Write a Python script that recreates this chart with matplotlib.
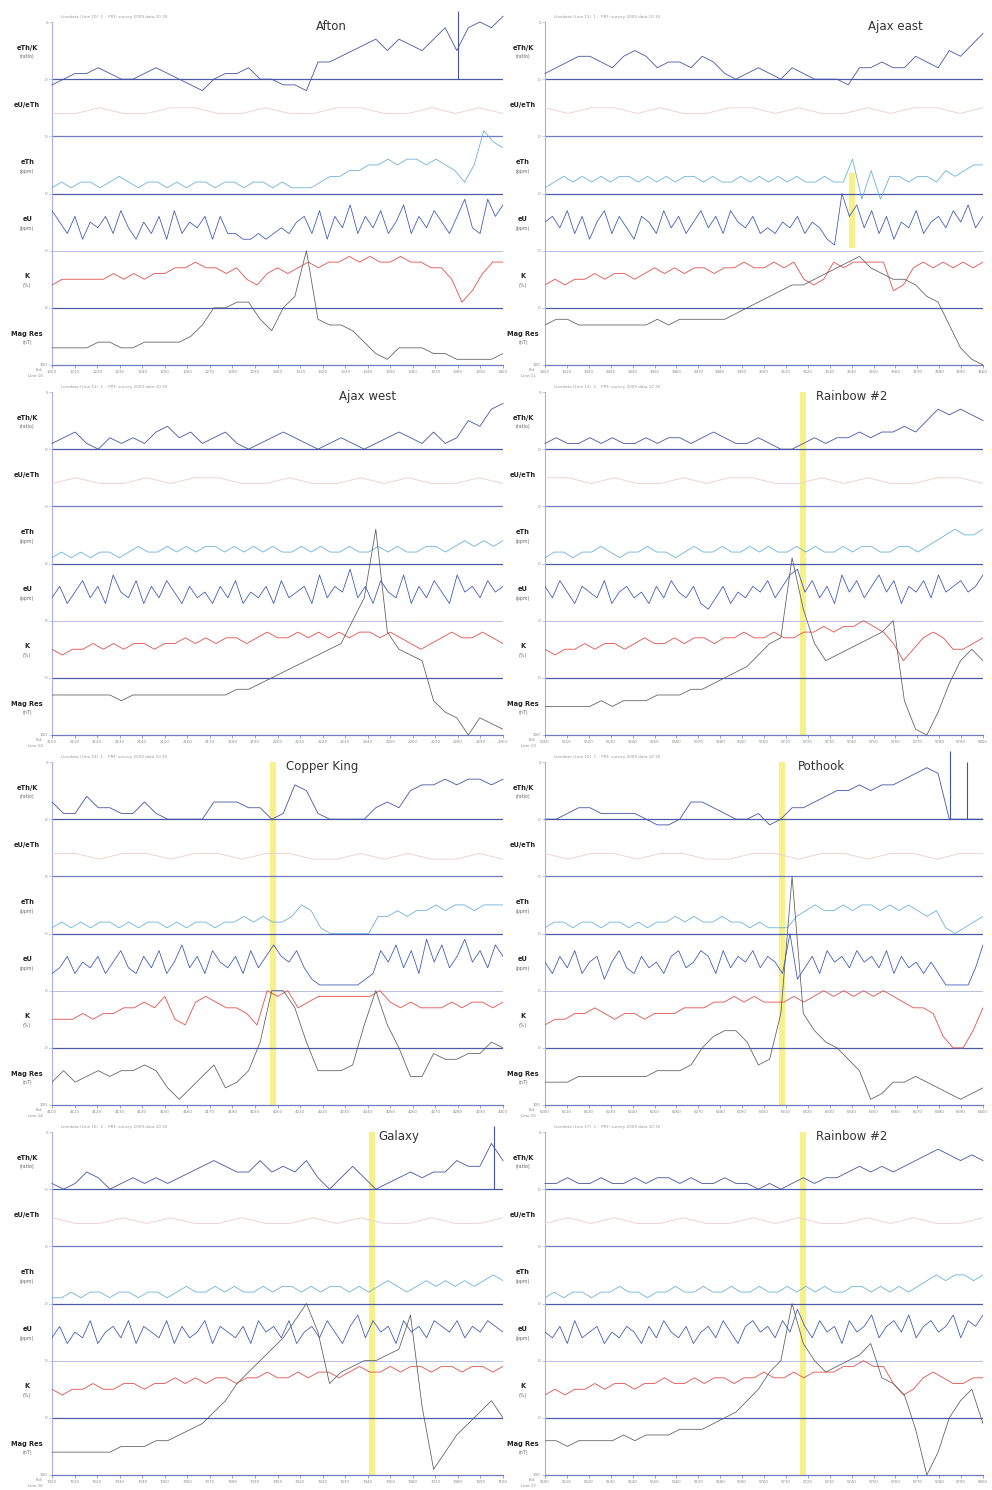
import matplotlib.pyplot as plt
import numpy as np

# ---- data (values in tenths of a track height, measured from each track's baseline) ----
titles = ["Afton", "Ajax east", "Ajax west", "Rainbow #2",
          "Copper King", "Pothook", "Galaxy", "Rainbow #2"]

track_names = ["eTh/K", "eU/eTh", "eTh", "eU", "K", "Mag Res"]
track_units = ["(ratio)", "", "(ppm)", "(ppm)", "(%)", "(nT)"]

ratio_thk = [
    [-1,0,1,1,2,1,0,0,1,2,1,0,-1,-2,0,1,1,2,0,0,-1,-1,-2,3,3,4,5,6,7,5,7,6,5,7,9,5,9,10,9,11],
    [1,2,3,4,4,3,2,4,5,4,2,3,3,2,4,3,1,0,1,2,1,0,2,1,0,0,0,-1,2,2,3,2,2,4,3,2,5,4,6,8],
    [1,2,3,1,0,2,1,2,1,3,4,2,3,1,2,3,1,0,1,2,3,2,1,0,1,2,1,0,1,2,3,2,1,3,1,2,5,4,7,8],
    [1,2,1,1,2,1,2,1,1,2,1,2,2,1,2,3,2,1,1,2,1,0,0,1,2,1,2,2,3,2,3,3,4,3,5,7,6,7,6,5],
    [3,1,1,4,2,2,1,1,3,1,0,0,0,0,3,3,3,2,2,0,1,6,5,1,0,0,0,0,2,3,2,5,6,6,7,6,7,7,6,7],
    [0,0,1,2,2,1,1,1,1,0,-1,-1,0,3,3,2,1,0,0,1,-1,0,2,2,3,4,5,5,6,5,6,6,7,8,9,8,0,0,0,0],
    [1,0,1,3,2,0,1,2,1,2,1,2,3,4,5,4,3,3,5,3,4,3,5,2,0,2,4,2,0,1,2,3,2,3,3,5,4,4,8,5],
    [1,1,2,1,1,2,1,1,2,1,2,2,1,2,1,1,2,1,1,0,1,0,1,2,1,2,2,3,4,3,4,3,4,5,6,7,6,5,6,5],
]
# single-sample spikes on the eTh/K track: (panel, position along line, height)
spike_panel = [0, 5, 5, 6]
spike_pos = [0.90, 0.924, 0.964, 0.98]
spike_height = [12, 12, 10, 11]

ratio_uth = [
    [4,4,5,4,4,5,5,4,4,5,4,4,5,5,4,4,5,4,5,4],
    [5,4,5,5,4,5,4,4,5,5,4,5,4,4,5,4,5,5,4,5],
    [4,5,4,4,5,4,5,5,4,4,5,4,4,5,4,5,4,4,5,4],
    [5,5,4,5,4,4,5,4,5,5,4,4,5,4,5,4,4,5,5,4],
    [4,4,3,4,4,3,4,4,3,4,4,3,3,4,3,4,3,3,4,3],
    [4,3,4,4,3,4,4,3,3,4,4,3,4,4,3,4,4,3,4,4],
    [5,4,4,5,4,5,4,4,5,4,4,5,4,5,4,4,5,4,4,5],
    [4,5,4,5,4,4,5,4,4,5,4,5,4,4,5,4,5,4,4,5],
]

eth_ppm = [
    [1,2,1,2,2,1,2,3,2,1,2,2,1,2,1,2,2,1,2,2,1,2,2,1,2,1,1,1,2,3,3,4,4,5,5,6,5,6,6,5,6,5,4,2,5,11,9,8],
    [1,2,3,2,3,2,3,2,3,3,2,3,2,3,2,3,3,2,3,2,2,3,2,3,2,3,2,3,2,2,3,2,2,6,-1,4,-1,3,3,2,3,3,2,4,3,4,5,5],
    [1,2,1,2,1,2,2,1,2,3,2,2,3,2,3,2,3,3,2,3,2,3,2,3,2,2,3,2,3,2,2,3,2,2,3,2,3,2,2,3,3,2,3,4,3,4,3,4],
    [1,2,2,1,2,2,3,2,1,2,2,3,2,2,1,2,3,2,2,3,2,2,3,2,3,2,2,3,2,3,2,2,3,2,3,3,2,2,3,3,2,3,4,5,6,5,5,6],
    [1,2,1,2,1,2,2,1,2,1,2,2,1,2,1,2,2,1,2,2,3,2,3,2,2,3,5,4,1,0,0,0,0,0,3,3,4,3,4,4,5,4,5,5,4,5,5,5],
    [1,2,2,1,2,2,1,2,2,1,2,1,2,2,3,2,3,2,2,3,2,2,1,2,1,1,1,3,4,5,4,4,5,4,5,5,4,5,4,5,4,3,4,1,0,1,2,3],
    [1,1,2,1,2,2,1,2,2,1,2,2,1,2,3,2,2,3,2,3,2,2,3,2,3,3,2,3,2,3,3,2,3,2,3,4,3,2,3,4,3,4,3,4,3,4,5,4],
    [1,2,1,2,2,1,2,2,3,2,2,1,2,2,3,2,2,3,2,2,3,2,2,3,2,2,3,2,3,2,3,2,2,3,3,2,3,2,3,2,3,4,5,4,5,5,4,5],
]

eu_ppm = [
    [7,5,3,6,2,5,4,6,3,7,4,2,5,3,6,2,7,3,5,4,6,2,6,3,3,2,2,3,2,3,4,3,5,6,3,7,2,6,4,8,3,6,4,7,3,5,8,3,6,4,7,5,3,6,9,4,3,9,6,8],
    [5,6,4,7,3,6,2,5,7,3,6,4,2,6,5,3,7,4,6,3,5,7,4,6,3,7,5,4,6,3,4,3,5,4,6,3,5,4,2,1,10,6,8,4,7,3,6,2,5,4,7,3,5,6,4,7,5,8,4,6],
    [4,6,3,5,7,4,6,3,8,5,4,7,3,6,4,7,5,3,6,4,5,3,6,4,7,3,5,4,6,3,7,4,5,6,3,8,4,6,5,9,4,6,3,7,5,4,8,3,6,4,7,5,3,8,5,6,4,7,5,6],
    [6,4,7,5,3,6,5,4,7,3,5,6,4,5,3,6,4,7,5,4,6,3,2,4,6,3,5,4,6,5,7,4,6,8,9,5,7,4,6,3,8,5,7,4,6,8,5,7,3,6,5,7,4,8,5,6,7,5,6,8],
    [3,4,6,3,5,4,6,3,5,7,4,3,6,4,7,3,5,8,4,6,3,7,5,4,6,3,7,4,6,8,6,5,7,4,2,1,1,1,1,1,1,2,3,7,5,8,4,7,3,9,5,8,4,6,9,5,7,4,8,6],
    [5,3,6,4,7,3,5,6,2,5,7,4,3,6,4,5,3,6,7,4,5,7,6,3,7,4,6,5,7,4,6,5,3,10,2,4,6,3,7,5,6,4,7,5,6,4,7,3,6,4,5,3,5,3,1,1,1,1,4,8],
    [4,6,3,5,4,7,3,5,6,4,7,3,6,5,4,7,3,6,4,5,7,3,6,5,4,6,3,7,5,6,4,7,3,5,6,4,7,5,3,6,8,4,7,5,6,3,7,5,6,4,7,6,5,7,4,6,5,7,6,5],
    [5,4,6,3,7,4,5,6,3,5,4,6,5,3,6,4,7,5,4,6,3,5,6,4,7,5,3,6,7,5,6,4,7,5,9,6,4,7,5,6,3,7,5,6,8,4,6,7,5,8,4,6,7,5,6,8,4,7,6,8],
]

k_pct = [
    [4,5,5,5,5,5,6,5,6,5,6,6,7,7,8,7,7,6,7,5,4,6,7,6,7,8,7,8,8,9,8,9,8,8,9,8,8,7,7,5,1,3,6,8,8],
    [4,5,4,5,5,6,5,6,6,5,6,7,6,7,6,7,7,6,7,7,8,7,7,8,7,8,5,4,5,8,7,8,8,8,8,3,4,7,8,7,8,7,8,7,8],
    [5,4,5,5,6,5,6,5,6,6,5,6,6,7,6,7,6,7,7,6,7,8,7,7,8,7,8,7,8,7,8,8,7,8,7,6,5,6,7,8,7,7,8,7,6],
    [5,4,5,5,6,5,6,6,5,6,7,6,6,7,6,7,7,6,7,7,8,7,7,8,7,7,8,8,9,8,9,9,10,9,8,6,3,5,7,8,7,5,5,6,7],
    [5,5,5,6,5,6,6,7,7,8,7,9,5,4,8,9,8,7,7,6,4,10,9,10,7,8,9,9,9,9,9,9,10,8,7,8,7,7,7,8,7,8,8,7,8],
    [4,5,5,6,6,7,6,5,6,6,5,6,6,6,7,7,7,8,8,9,8,9,8,8,8,9,8,9,10,9,10,9,10,9,10,9,8,7,7,6,2,0,0,3,7],
    [5,4,5,5,6,5,5,6,6,5,6,6,7,6,7,6,7,7,6,7,7,8,7,7,8,7,8,8,7,8,9,8,8,9,8,9,9,8,9,9,8,9,9,8,9],
    [4,5,4,5,5,6,5,6,6,5,6,6,7,6,6,7,6,7,7,6,7,7,8,7,7,8,7,8,8,8,9,9,10,9,9,6,4,5,7,8,7,6,6,7,7],
]

mag_res = [
    [3,3,3,3,4,4,3,3,4,4,4,4,5,7,10,10,11,11,8,6,10,12,20,8,7,7,6,4,2,1,3,3,3,2,2,1,1,1,1,2],
    [7,8,8,7,7,7,7,7,7,7,8,7,8,8,8,8,8,9,10,11,12,13,14,14,15,16,17,18,19,17,16,15,15,14,12,11,7,3,1,0],
    [7,7,7,7,7,7,6,7,7,7,7,7,7,7,7,7,8,8,9,10,11,12,13,14,15,16,20,24,36,18,15,14,13,6,4,3,0,3,2,1],
    [5,5,5,5,5,6,5,6,6,6,7,7,7,8,8,9,10,11,12,14,16,17,31,22,16,13,14,15,16,17,18,20,6,1,0,4,9,13,15,13],
    [4,6,4,5,6,5,6,6,7,6,3,1,3,5,7,3,4,6,11,20,20,17,11,6,6,6,7,14,20,14,10,5,5,9,8,8,9,9,11,10],
    [4,4,4,5,5,5,5,5,5,5,6,6,6,7,10,12,13,13,11,7,8,16,40,16,13,11,10,8,6,1,2,4,4,5,4,3,2,1,2,3],
    [4,4,4,4,4,4,5,5,5,6,6,7,8,9,11,13,16,18,20,22,24,27,30,25,16,18,19,20,20,21,22,28,12,1,4,7,9,11,13,10],
    [6,6,5,6,6,6,6,7,6,7,7,7,8,8,8,9,10,11,13,15,18,20,30,23,20,18,19,20,21,23,17,16,14,8,0,4,10,13,15,9],
]

# highlighted fiducial (yellow marker) per panel: position, lower and upper track extent
marker_pos = [None, 0.70, None, 0.59, 0.49, 0.54, 0.71, 0.59]
marker_lo = [0, 2.1, 0, 0, 0, 0, 0, 0]
marker_hi = [6, 3.3, 6, 6, 6, 6, 6, 6]

fid_start = [1200, 3400, 2100, 5600, 4100, 6200, 7300, 5600]

# ---- styling ----
title_x = [0.62, 0.80, 0.70, 0.70, 0.60, 0.63, 0.77, 0.70]
colors = ["#4455a5", "#f1d3d3", "#62aad8", "#3552b4", "#e2504a", "#5a5a5a"]
widths = [0.6, 0.7, 0.55, 0.55, 0.6, 0.55]
base_line_col = ["#4c5aa8", "#6f7cc0", "#4c5aa8", "#b8bfe4", "#4c5aa8"]

fig = plt.figure(figsize=(9.92, 14.90), dpi=100)
W, H = 992.0, 1490.0

for p in range(8):
    col = p % 2
    row = p // 2
    left_px = 52 if col == 0 else 545
    width_px = 451 if col == 0 else 438
    top_px = 22 + 370 * row
    ax = fig.add_axes([left_px / W, 1 - (top_px + 343) / H, width_px / W, 343 / H])
    ax.set_xlim(0, 1)
    ax.set_ylim(0, 6)

    for s in ["top", "right"]:
        ax.spines[s].set_visible(False)
    ax.spines["left"].set_color("#a8b0e0")
    ax.spines["left"].set_linewidth(0.8)
    ax.spines["bottom"].set_color("#6f7cc0")
    ax.spines["bottom"].set_linewidth(0.9)

    # track baselines
    for i, y in enumerate([5, 4, 3, 2, 1]):
        ax.axhline(y, color=base_line_col[i], lw=0.9 if i != 3 else 0.7, zorder=1)

    if marker_pos[p] is not None:
        ax.axvline(marker_pos[p], ymin=marker_lo[p] / 6, ymax=marker_hi[p] / 6,
                   color="#f6f18c", lw=4.5, zorder=0)

    series = [ratio_thk[p], ratio_uth[p], eth_ppm[p], eu_ppm[p], k_pct[p], mag_res[p]]
    for t, vals in enumerate(series):
        base = 5 - t
        v = np.array(vals, dtype=float) / 10.0
        x = np.linspace(0, 1, len(v))
        ax.plot(x, base + v, color=colors[t], lw=widths[t], zorder=3,
                clip_on=(t != 0))

    for sp, sx, sh in zip(spike_panel, spike_pos, spike_height):
        if sp == p:
            ax.vlines(sx, 5, 5 + sh / 10.0, color=colors[0], lw=0.8, zorder=3,
                      clip_on=False)

    # track labels on the left
    tr = ax.get_yaxis_transform()
    lx = -0.055 if col == 0 else -0.05
    for t in range(6):
        yc = 5 - t + 0.55
        ax.text(lx, yc, track_names[t], transform=tr, ha="center", va="center",
                fontsize=4.8, fontweight="bold", color="#222222")
        if track_units[t]:
            ax.text(lx, yc - 0.16, track_units[t], transform=tr, ha="center",
                    va="center", fontsize=3.4, color="#666666")

    ax.set_yticks([0, 1, 2, 3, 4, 5, 6])
    ax.set_yticklabels(["100", "0", "0", "0", "0", "0", "5"], fontsize=3, color="#888888")
    ax.tick_params(axis="y", length=2, width=0.5, color="#a8b0e0", pad=1)

    ticks = np.linspace(0, 1, 21)
    ax.set_xticks(ticks)
    ax.set_xticklabels([str(fid_start[p] + 10 * i) for i in range(21)],
                       fontsize=2.8, color="#888888")
    ax.tick_params(axis="x", length=2.5, width=0.5, color="#6f7cc0", pad=1)

    ax.text(title_x[p], 5.93, titles[p], transform=ax.transData, ha="center",
            va="center", fontsize=8.5, color="#333333")
    ax.text(0.02, 6.08, "Linedata (Line %d)  1 :  PRF: survey 2009 data 10 30" % (10 + p),
            fontsize=3, color="#999999", va="center", clip_on=False)
    ax.text(-0.02, -0.09, "Fid:", transform=tr, fontsize=3, color="#888888",
            ha="right", va="center")
    ax.text(-0.02, -0.2, "Line %d" % (10 + p), transform=tr, fontsize=3,
            color="#888888", ha="right", va="center")

fig.savefig("out.png", dpi=100)
